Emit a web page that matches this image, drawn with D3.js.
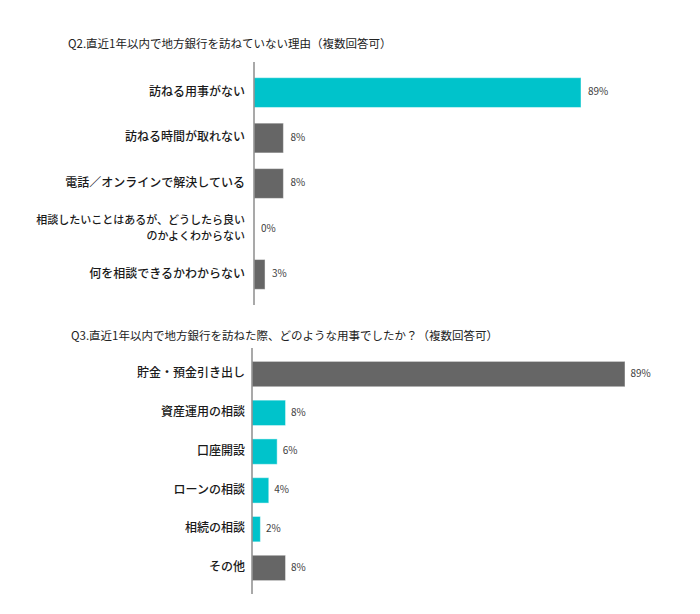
<!DOCTYPE html>
<html><head><meta charset="utf-8">
<script src="https://cdn.jsdelivr.net/npm/d3@7"></script>
<style>
html,body{margin:0;padding:0;background:#fff;}
svg{display:block;font-family:"Noto Sans CJK JP","Noto Sans",sans-serif;}
</style></head>
<body>
<svg id="chart" width="700" height="614"></svg>
<script>
const q2Title = "Q2.直近1年以内で地方銀行を訪ねていない理由（複数回答可）";
const q2Categories = ["訪ねる用事がない", "訪ねる時間が取れない", "電話／オンラインで解決している", "相談したいことはあるが、どうしたら良い\nのかよくわからない", "何を相談できるかわからない"];
const q2Values = [89, 8, 8, 0, 3];
const q2Highlight = [true, false, false, false, false];

const q3Title = "Q3.直近1年以内で地方銀行を訪ねた際、どのような用事でしたか？（複数回答可）";
const q3Categories = ["貯金・預金引き出し", "資産運用の相談", "口座開設", "ローンの相談", "相続の相談", "その他"];
const q3Values = [89, 8, 6, 4, 2, 8];
const q3Highlight = [false, true, true, true, true, false];

const TEAL = "#00C3CB", GRAY = "#666666";
const svg = d3.select("#chart");

function drawPanel(cfg) {
  const g = svg.append("g");
  g.append("text").attr("x", cfg.titleX).attr("y", cfg.titleY)
    .attr("font-size", 11.5).attr("fill", "#222").attr("dominant-baseline", "middle")
    .text(cfg.title);
  const y = d3.scaleBand().domain(cfg.categories).range([cfg.top, cfg.bottom]).padding(0.345);
  const x = d3.scaleLinear().domain([0, d3.max(cfg.values)]).range([cfg.axisX, cfg.maxX]);
  const data = cfg.categories.map((c, i) => ({c, v: cfg.values[i], h: cfg.highlight[i]}));

  g.selectAll("rect.bar").data(data).join("rect").attr("class", "bar")
    .attr("x", x(0)).attr("y", d => y(d.c))
    .attr("width", d => x(d.v) - x(0)).attr("height", y.bandwidth())
    .attr("fill", d => d.h ? TEAL : GRAY)
    .attr("stroke", d => d.v > 0 ? "rgba(255,255,255,0.45)" : "none").attr("stroke-width", 1);

  g.selectAll("text.val").data(data).join("text").attr("class", "val")
    .attr("x", d => x(d.v) + cfg.valGap).attr("y", d => y(d.c) + y.bandwidth() / 2)
    .attr("dominant-baseline", "middle").attr("font-size", 10).attr("fill", "#404040")
    .text(d => d.v + "%");

  const labels = g.selectAll("text.lab").data(data).join("text").attr("class", "lab")
    .attr("text-anchor", "end").attr("font-size", 12).attr("font-weight", 500).attr("fill", "#1a1a1a");
  labels.each(function(d) {
    const lines = d.c.split("\n");
    const cy = y(d.c) + y.bandwidth() / 2;
    const lh = 16.2;
    const fs = lines.length > 1 ? 11 : 12;
    d3.select(this).attr("font-size", fs).selectAll("tspan").data(lines).join("tspan")
      .attr("x", cfg.labelX)
      .attr("y", (l, i) => cy + (i - (lines.length - 1) / 2) * lh)
      .attr("dominant-baseline", "middle")
      .text(l => l);
  });

  g.append("line").attr("x1", cfg.axisX).attr("x2", cfg.axisX)
    .attr("y1", cfg.top).attr("y2", cfg.bottom)
    .attr("stroke", "#8c8c8c").attr("stroke-width", 1.5);
}

drawPanel({title: q2Title, titleX: 68, titleY: 45, categories: q2Categories, values: q2Values, highlight: q2Highlight,
  top: 62, bottom: 305, axisX: 254, maxX: 581, labelX: 245, valGap: 7});
drawPanel({title: q3Title, titleX: 71, titleY: 337, categories: q3Categories, values: q3Values, highlight: q3Highlight,
  top: 348, bottom: 594, axisX: 252, maxX: 625, labelX: 245, valGap: 5.5});
</script>
</body></html>
